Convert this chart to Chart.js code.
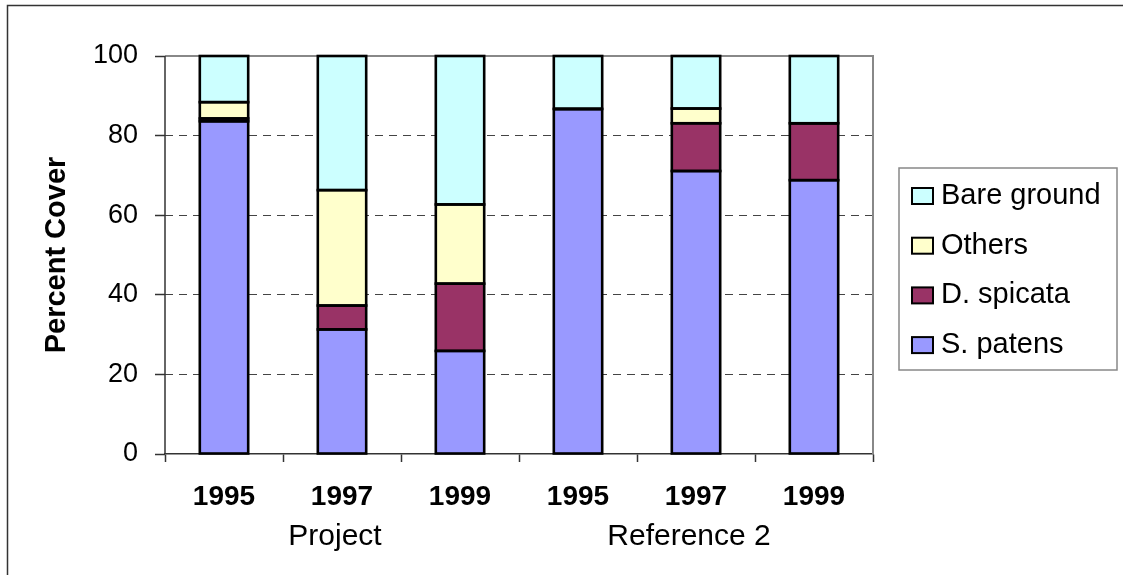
<!DOCTYPE html>
<html>
<head>
<meta charset="utf-8">
<script src="https://cdn.jsdelivr.net/npm/chart.js@4/dist/chart.umd.min.js"></script>
<style>
  html, body { margin: 0; padding: 0; background: #fff; }
  #wrap { width: 1123px; height: 575px; position: relative; }
</style>
</head>
<body>
<div id="wrap"><canvas id="c" width="1123" height="575"></canvas></div>
<script>
// ---- data ----
const years = ['1995', '1997', '1999', '1995', '1997', '1999'];
const groups = ['', 'Project', '', '', 'Reference 2', ''];
const yTicks = [0, 20, 40, 60, 80, 100];
const sPatens = [83.6, 31.3, 25.9, 86.7, 71.1, 68.8];
const dSpicata = [0.7, 6.0, 16.9, 0, 12.0, 14.3];
const others = [4.1, 29.0, 19.9, 0, 3.7, 0];
const bareGround = [11.6, 33.7, 37.3, 13.3, 13.2, 16.9];
const seriesNames = ['S. patens', 'D. spicata', 'Others', 'Bare ground'];
const seriesColors = ['#9999FF', '#993366', '#FFFFCC', '#CCFFFF'];

const FONT = '"Liberation Sans", Arial, sans-serif';

const frame = {
  id: 'frame',
  beforeDatasetsDraw(chart) {
    const {ctx, chartArea: a} = chart;
    ctx.save();
    ctx.strokeStyle = '#888';
    ctx.lineWidth = 2;
    ctx.beginPath();
    ctx.moveTo(a.left, a.top);
    ctx.lineTo(a.right, a.top);
    ctx.lineTo(a.right, a.bottom);
    ctx.stroke();
    ctx.strokeStyle = '#333';
    ctx.lineWidth = 1.5;
    ctx.beginPath();
    ctx.moveTo(a.left, a.top);
    ctx.lineTo(a.left, a.bottom);
    ctx.stroke();
    ctx.restore();
  },
  afterDatasetsDraw(chart) {
    // Excel-style single outlines around each bar segment, from the library's element geometry
    const {ctx} = chart;
    ctx.save();
    ctx.strokeStyle = '#000';
    ctx.lineWidth = 2.6;
    ctx.lineJoin = 'miter';
    chart.data.datasets.forEach((d, i) => {
      const meta = chart.getDatasetMeta(i);
      meta.data.forEach((el) => {
        const p = el.getProps(['x', 'y', 'base', 'width'], true);
        const top = Math.min(p.y, p.base);
        const h = Math.abs(p.base - p.y);
        ctx.strokeRect(p.x - p.width / 2, top, p.width, h);
      });
    });
    ctx.restore();
  },
  afterDraw(chart) {
    const {ctx} = chart;
    ctx.save();
    // outer frame
    ctx.strokeStyle = '#333';
    ctx.lineWidth = 1.5;
    ctx.beginPath();
    ctx.moveTo(7.5, 575);
    ctx.lineTo(7.5, 5.5);
    ctx.lineTo(1123, 5.5);
    ctx.stroke();
    // legend
    ctx.strokeStyle = '#888';
    ctx.lineWidth = 1.5;
    ctx.strokeRect(899, 168, 218, 202);
    const ds = chart.data.datasets.slice().reverse();
    ctx.font = '29px ' + FONT;
    ctx.textBaseline = 'middle';
    ctx.textAlign = 'left';
    ds.forEach((d, i) => {
      const cy = 196 + i * 49.7;
      ctx.fillStyle = d.backgroundColor;
      ctx.fillRect(912, cy - 8, 21, 16);
      ctx.strokeStyle = '#000';
      ctx.lineWidth = 2;
      ctx.strokeRect(912, cy - 8, 21, 16);
      ctx.fillStyle = '#000';
      ctx.fillText(d.label, 941, cy);
    });
    ctx.restore();
  }
};

const values = [sPatens, dSpicata, others, bareGround];
const datasets = seriesNames.map((n, i) => ({
  label: n,
  data: values[i],
  backgroundColor: seriesColors[i],
  borderColor: '#000',
  borderWidth: 0,
  inflateAmount: 0,
  barPercentage: 0.41,
  categoryPercentage: 1.0
}));

new Chart(document.getElementById('c'), {
  type: 'bar',
  data: { labels: years, datasets },
  plugins: [frame],
  options: {
    responsive: false,
    animation: false,
    devicePixelRatio: 1,
    layout: { padding: { left: 0, top: 56, right: 250, bottom: 0 } },
    plugins: { legend: { display: false }, tooltip: { enabled: false } },
    scales: {
      x: {
        stacked: true,
        position: 'bottom',
        grid: { drawOnChartArea: false, tickLength: 8, tickColor: '#333', tickWidth: 1.5 },
        border: { color: '#333', width: 1.5 },
        ticks: { color: '#000', font: { family: FONT, size: 28, weight: 'bold' }, padding: 18, maxRotation: 0, autoSkip: false },
        afterFit(s) { s.height = 60; }
      },
      x2: {
        type: 'category',
        labels: groups,
        position: 'bottom',
        offset: true,
        grid: { display: false, drawTicks: false },
        border: { display: false },
        ticks: { color: '#000', font: { family: FONT, size: 30 }, padding: 5, labelOffset: -7, maxRotation: 0, autoSkip: false },
        afterFit(s) { s.height = 61; }
      },
      y: {
        stacked: true,
        min: 0,
        max: 100,
        afterBuildTicks(s) { s.ticks = yTicks.map(v => ({ value: v })); },
        grid: {
          color: (c) => (c.tick && (c.tick.value === 0 || c.tick.value === 100)) ? 'rgba(0,0,0,0)' : '#444',
          lineWidth: 1,
          tickLength: 10,
          tickColor: '#333',
          tickBorderDash: [],
          tickWidth: 1.5
        },
        border: { display: false, dash: [8, 6] },
        ticks: { color: '#000', font: { family: FONT, size: 27 }, padding: 17 },
        title: {
          display: true,
          text: 'Percent Cover',
          color: '#000',
          font: { family: FONT, size: 29, weight: 'bold' },
          padding: { top: 40, bottom: 0 }
        },
        afterFit(s) { s.width = 165; }
      }
    }
  }
});
</script>
</body>
</html>
